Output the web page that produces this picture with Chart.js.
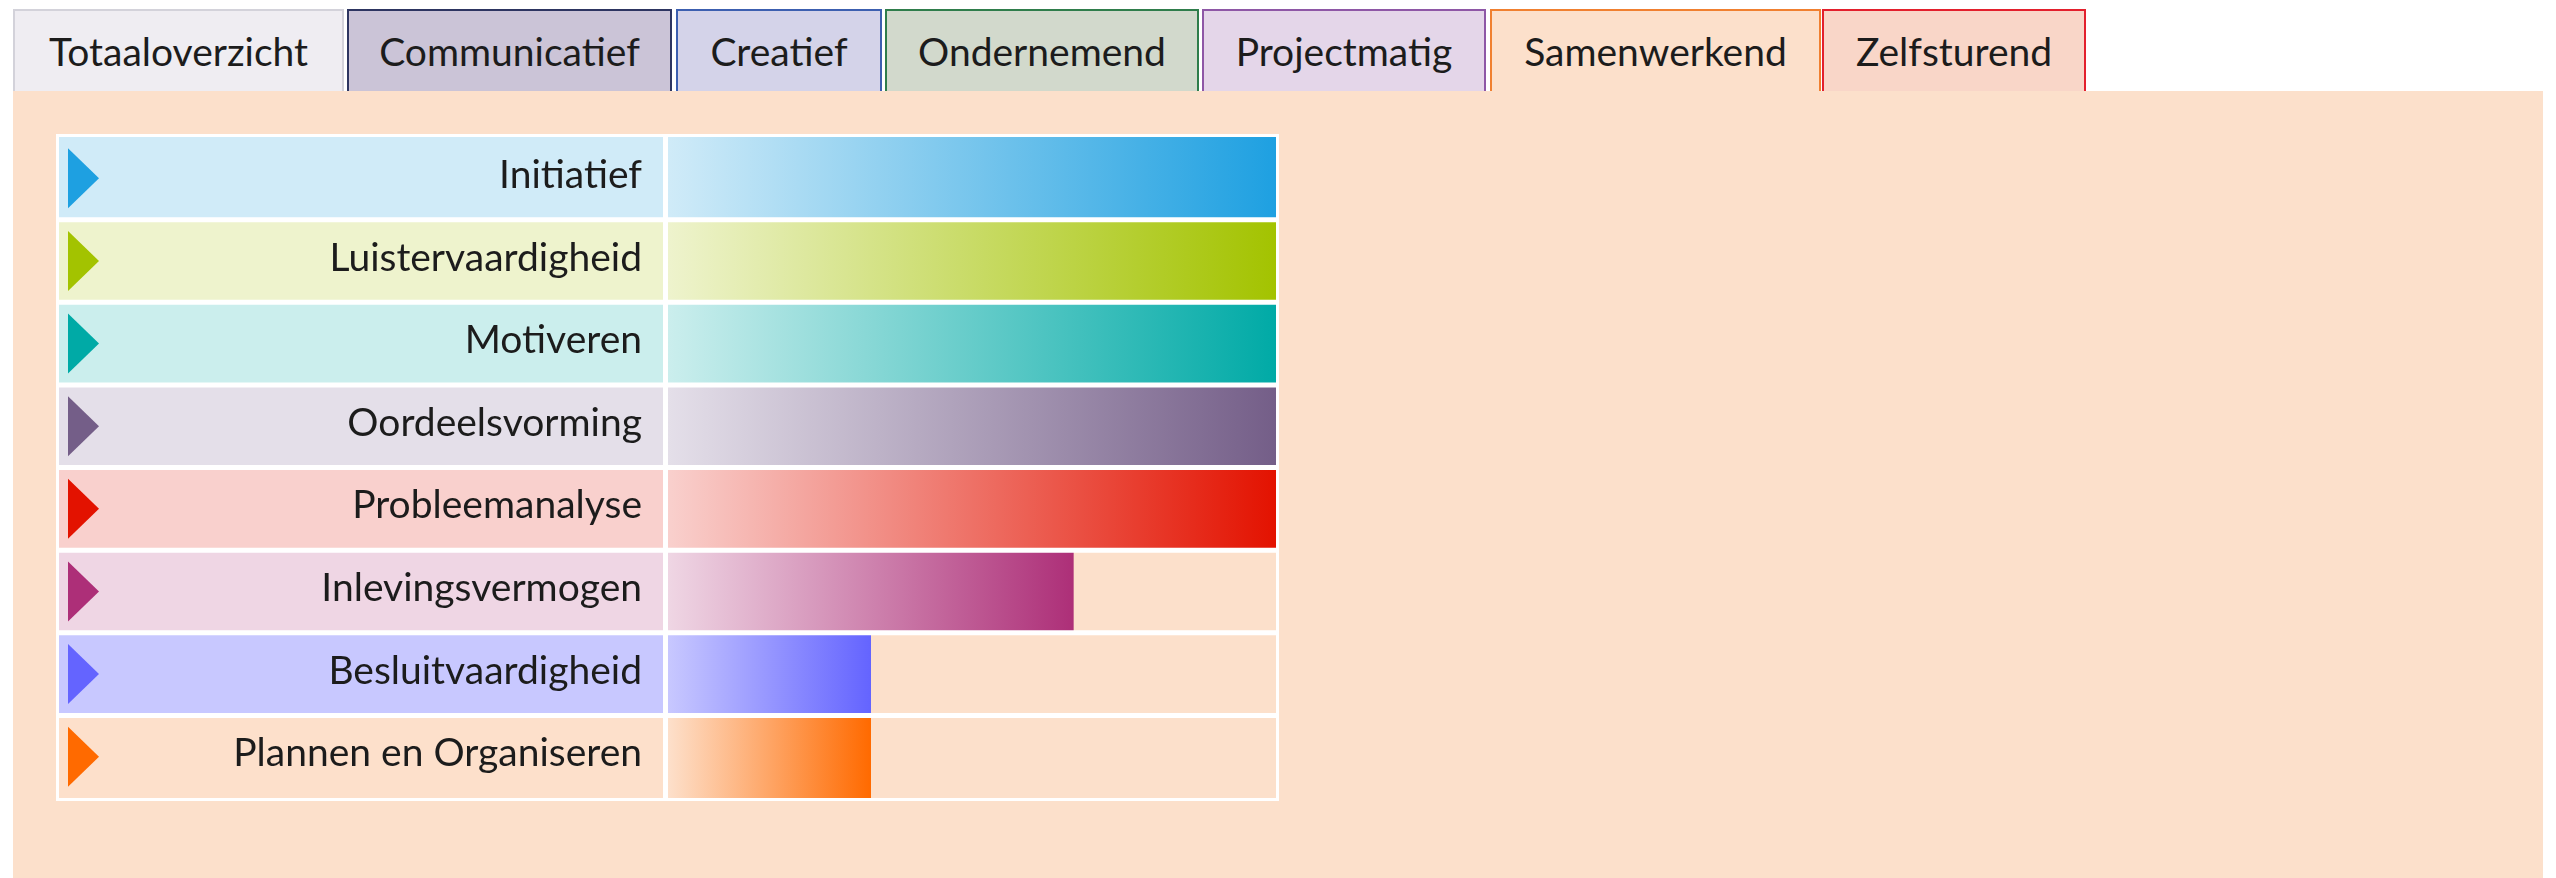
<!DOCTYPE html>
<html>
<head>
<meta charset="utf-8">
<script src="https://cdn.jsdelivr.net/npm/chart.js@4.4.0/dist/chart.umd.min.js"></script>
<style>
body{margin:0;background:#fff;width:2556px;height:878px;overflow:hidden;font-family:Lato,sans-serif;position:relative}
.tab{position:absolute;top:9px;height:82px;box-sizing:border-box;border:2px solid;border-bottom:none;
  font-size:39px;color:#1c1c1c;text-align:center;line-height:81px;white-space:nowrap}
#panel{position:absolute;left:13px;top:91px;width:2530px;height:787px;background:#fce0cb}
#box{position:absolute;left:56px;top:134px;width:1223px;height:667px}
</style>
</head>
<body>
<div id="panel"></div>
<div id="tabs"></div>
<div id="box"><canvas id="skills"></canvas></div>
<script>
// tabbladen
const tabNames = ['Totaaloverzicht','Communicatief','Creatief','Ondernemend','Projectmatig','Samenwerkend','Zelfsturend'];
const tabLeft = [13,347,676,885,1202,1490,1822];
const tabWidth = [331,325,206,314,284,331,264];
const tabFill = ['#efedf2','#cbc4d7','#d4d3e9','#d2d9cc','#e4d6e9','#fce0cb','#f9d6c8'];
const tabBorder = ['#d3d2da','#2d3561','#3c5fb0','#2f7d4b','#8e57a6','#f08030','#e3202d'];

// competenties
const skills = ['Initiatief','Luistervaardigheid','Motiveren','Oordeelsvorming','Probleemanalyse','Inlevingsvermogen','Besluitvaardigheid','Plannen en Organiseren'];
const scores = [3,3,3,3,3,2,1,1];
const maxScore = 3;
const strongColors = ['#1ea0e1','#a3c300','#00aaa6','#745e88','#e31200','#ad2f78','#6464ff','#ff6a00'];
const lightColors = ['#d0ebf8','#eef3cd','#cbeeed','#e4dfe9','#f9d0cd','#efd6e4','#c8c8ff','#fde0cb'];

const tabs = document.getElementById('tabs');
tabNames.forEach(function(name, i){
	const d = document.createElement('div');
	d.className = 'tab';
	d.textContent = name;
	d.style.left = tabLeft[i] + 'px';
	d.style.width = tabWidth[i] + 'px';
	d.style.background = tabFill[i];
	d.style.borderColor = tabBorder[i];
	tabs.appendChild(d);
});

const tablePlugin = {
	id: 'table',
	beforeDraw(chart){
		const ctx = chart.ctx, a = chart.chartArea, y = chart.scales.y;
		const half = (y.getPixelForValue(1) - y.getPixelForValue(0)) / 2;
		skills.forEach(function(s, i){
			const c = y.getPixelForValue(i);
			ctx.fillStyle = lightColors[i];
			ctx.fillRect(y.left, c - half, a.left - y.left, half * 2);
		});
	},
	afterDatasetsDraw(chart){
		const ctx = chart.ctx, a = chart.chartArea, y = chart.scales.y;
		const half = (y.getPixelForValue(1) - y.getPixelForValue(0)) / 2;
		ctx.save();
		ctx.strokeStyle = '#fff';
		ctx.lineWidth = 5;
		ctx.beginPath();
		for (let i = 0; i < skills.length - 1; i++){
			const b = y.getPixelForValue(i) + half;
			ctx.moveTo(y.left, b);
			ctx.lineTo(a.right, b);
		}
		ctx.moveTo(a.left - 2.5, a.top);
		ctx.lineTo(a.left - 2.5, a.bottom);
		ctx.stroke();
		ctx.lineWidth = 3;
		ctx.strokeRect(1.5, 1.5, chart.width - 3, chart.height - 3);
		skills.forEach(function(s, i){
			const c = y.getPixelForValue(i);
			ctx.fillStyle = strongColors[i];
			ctx.beginPath();
			ctx.moveTo(y.left + 9, c - 30);
			ctx.lineTo(y.left + 40, c);
			ctx.lineTo(y.left + 9, c + 30);
			ctx.closePath();
			ctx.fill();
		});
		ctx.restore();
	}
};

new Chart(document.getElementById('skills'), {
	type: 'bar',
	data: {
		labels: skills,
		datasets: [{
			data: scores,
			categoryPercentage: 1,
			barPercentage: 1,
			backgroundColor: function(c){
				const chart = c.chart, i = c.dataIndex;
				if (!chart.chartArea || c.type !== 'data') return strongColors[i];
				const x = chart.scales.x;
				const g = chart.ctx.createLinearGradient(x.getPixelForValue(0), 0, x.getPixelForValue(c.raw), 0);
				g.addColorStop(0, lightColors[i]);
				g.addColorStop(1, strongColors[i]);
				return g;
			}
		}]
	},
	options: {
		indexAxis: 'y',
		responsive: true,
		maintainAspectRatio: false,
		animation: false,
		layout: { padding: 3 },
		plugins: { legend: { display: false }, tooltip: { enabled: false } },
		scales: {
			x: { display: false, min: 0, max: maxScore },
			y: {
				grid: { display: false, drawTicks: false },
				border: { display: false },
				ticks: { padding: 26, labelOffset: -3, color: '#1c1c1c', font: { family: 'Lato', size: 39 } },
				afterFit: function(s){
					s.width = 609;
					s.paddingTop = 0;
					s.paddingBottom = 0;
				}
			}
		}
	},
	plugins: [tablePlugin]
});
</script>
</body>
</html>
